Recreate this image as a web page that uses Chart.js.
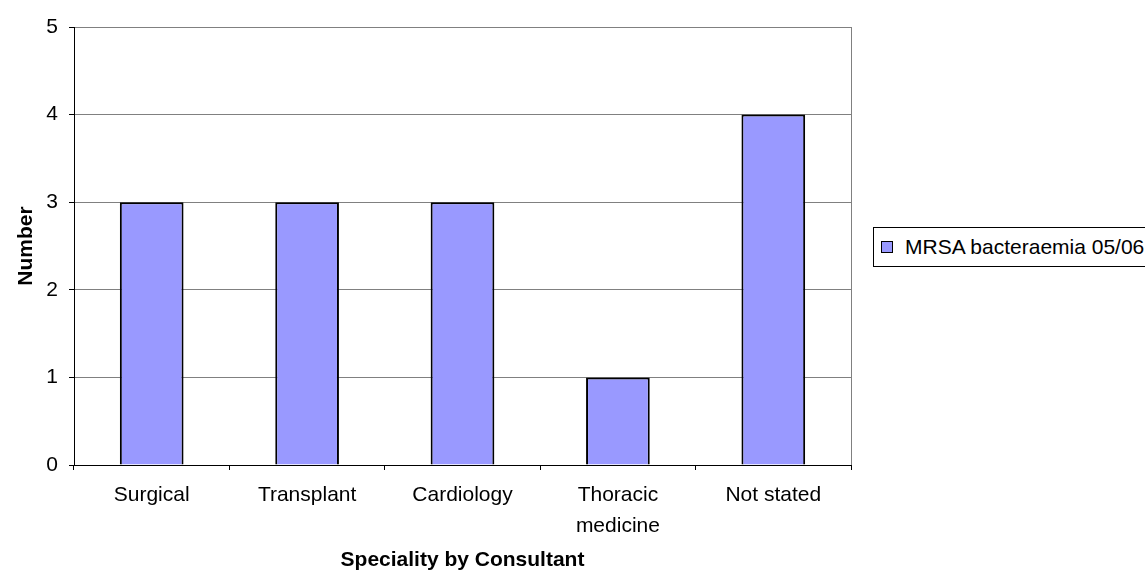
<!DOCTYPE html>
<html>
<head>
<meta charset="utf-8">
<script src="https://cdn.jsdelivr.net/npm/chart.js@4/dist/chart.umd.min.js"></script>
<style>
  html, body { margin: 0; padding: 0; background: #fff; overflow: hidden; }
  #wrap { position: relative; width: 1145px; height: 579px; }
  #legend {
    position: absolute; left: 873px; top: 227px; width: 290px; height: 38px;
    border: 1px solid #000; background: #fff; box-sizing: content-box;
    font-family: "Liberation Sans", Arial, sans-serif; font-size: 21px; color: #000;
    white-space: nowrap;
  }
  #legend .swatch {
    position: absolute; left: 7px; top: 13px; width: 10px; height: 10px;
    border: 1px solid #000;
  }
  #legend .text { position: absolute; left: 31px; top: 7px; line-height: 24px; }
</style>
</head>
<body>
<div id="wrap">
  <canvas id="mrsaChart" width="1145" height="579"></canvas>
  <div id="legend"><span class="swatch"></span><span class="text"></span></div>
</div>
<script>
// MRSA bacteraemia cases by consultant speciality
const categories = ['Surgical', 'Transplant', 'Cardiology', ['Thoracic', 'medicine'], 'Not stated'];
const seriesName = 'MRSA bacteraemia 05/06';
const caseCounts = [3, 3, 3, 1, 4];
const yTicks = [0, 1, 2, 3, 4, 5];

const barColor = '#9999FF';
const fontFamily = '"Liberation Sans", Arial, sans-serif';

// legend box beside the plot
document.querySelector('#legend .swatch').style.background = barColor;
document.querySelector('#legend .text').textContent = seriesName;

// gray frame on the right edge of the plot area
const rightBorder = {
  id: 'rightBorder',
  afterDraw(chart) {
    const { ctx, chartArea } = chart;
    ctx.save();
    ctx.strokeStyle = '#808080';
    ctx.lineWidth = 1;
    ctx.beginPath();
    ctx.moveTo(Math.round(chartArea.right) + 0.5, chartArea.top);
    ctx.lineTo(Math.round(chartArea.right) + 0.5, chartArea.bottom);
    ctx.stroke();
    ctx.restore();
  }
};

const ctx = document.getElementById('mrsaChart').getContext('2d');
new Chart(ctx, {
  type: 'bar',
  data: {
    labels: categories,
    datasets: [{
      label: seriesName,
      data: caseCounts,
      backgroundColor: barColor,
      borderColor: '#000',
      borderWidth: 2,
      barPercentage: 0.41,
      categoryPercentage: 1
    }]
  },
  options: {
    responsive: false,
    animation: false,
    layout: { padding: { left: 0, top: 27, right: 294, bottom: 0 } },
    plugins: {
      legend: { display: false },
      tooltip: { enabled: false }
    },
    scales: {
      x: {
        offset: true,
        grid: {
          offset: true,
          drawOnChartArea: false,
          tickLength: 5,
          tickColor: '#000'
        },
        border: { color: '#000', width: 1 },
        ticks: {
          color: '#000',
          padding: 10,
          maxRotation: 0,
          autoSkip: false,
          font: { family: fontFamily, size: 21, lineHeight: 1.48 }
        },
        title: {
          display: true,
          text: 'Speciality by Consultant',
          color: '#000',
          padding: { top: 0, bottom: 6 },
          font: { family: fontFamily, size: 21, weight: 'bold' }
        },
        afterFit(scale) { scale.height = 114; }
      },
      y: {
        min: 0,
        max: 5,
        afterBuildTicks(scale) { scale.ticks = yTicks.map(v => ({ value: v })); },
        grid: {
          color: '#808080',
          tickColor: '#000',
          tickLength: 5
        },
        border: { color: '#000', width: 1 },
        ticks: {
          color: '#000',
          padding: 11,
          font: { family: fontFamily, size: 21 }
        },
        title: {
          display: true,
          text: 'Number',
          color: '#000',
          padding: { top: 14, bottom: 0 },
          font: { family: fontFamily, size: 21, weight: 'bold' }
        },
        afterFit(scale) { scale.width = 74; }
      }
    }
  },
  plugins: [rightBorder]
});
</script>
</body>
</html>
